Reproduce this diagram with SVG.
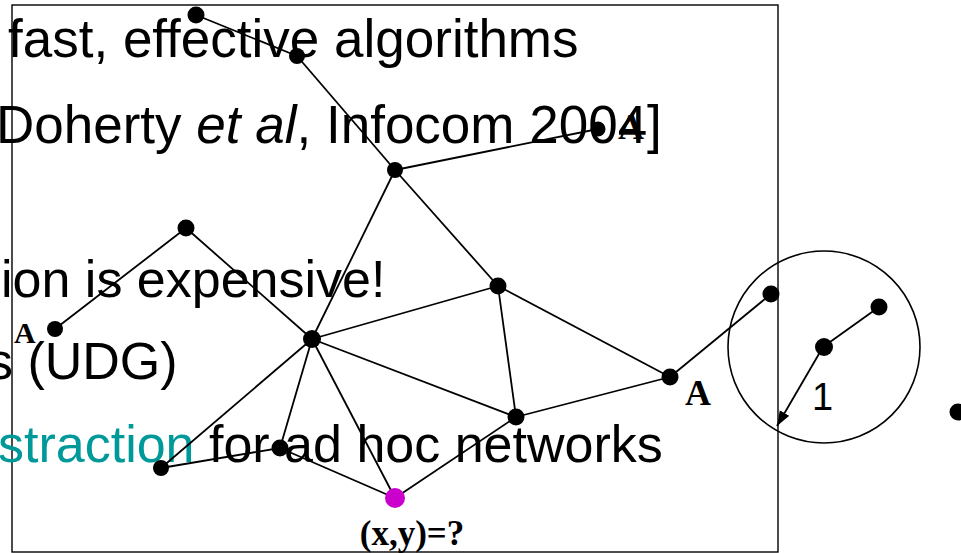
<svg xmlns="http://www.w3.org/2000/svg" width="961" height="553" viewBox="0 0 961 553">
<style>
.t{font-family:"Liberation Sans",Arial,sans-serif;font-size:52px;fill:#000}
.teal{fill:#009999}
.lbl{font-family:"Liberation Serif","Times New Roman",serif;font-weight:bold;fill:#000}
.e{stroke:#000;stroke-width:1.8;fill:none}
.n{fill:#000}
.m{fill:#cc00cc}
</style>
<defs>
<marker id="ah" markerWidth="16" markerHeight="12" refX="15" refY="5.5" orient="auto" markerUnits="userSpaceOnUse">
<path d="M0,0 L15,5.5 L0,11 z" fill="#000"/>
</marker>
</defs>
<rect width="961" height="553" fill="#fff"/>
<rect x="12" y="5" width="766" height="547" fill="none" stroke="#000" stroke-width="1.4"/>
<g id="text">
<text class="t" x="8" y="57" style="font-size:53px">fast, effective algorithms</text>
<text class="t" x="-4" y="143" style="font-size:53px">Doherty <tspan font-style="italic">et al</tspan>, Infocom 2004]</text>
<text class="t" x="1" y="297">ion is expensive!</text>
<text class="t" x="-13" y="379">s (UDG)</text>
<text class="t" x="-2" y="462"><tspan class="teal">straction</tspan> for ad hoc networks</text>
</g>
<circle cx="824" cy="347" r="96" fill="none" stroke="#000" stroke-width="1.6"/>
<g id="connectors">
<line class="e" x1="196" y1="15" x2="297" y2="56"/>
<line class="e" x1="297" y1="56" x2="395" y2="170"/>
<line class="e" x1="395" y1="170" x2="598" y2="129"/>
<line class="e" x1="395" y1="170" x2="312" y2="339"/>
<line class="e" x1="395" y1="170" x2="498" y2="286"/>
<line class="e" x1="186" y1="228" x2="55" y2="329"/>
<line class="e" x1="186" y1="228" x2="312" y2="339"/>
<line class="e" x1="312" y1="339" x2="498" y2="286"/>
<line class="e" x1="312" y1="339" x2="516" y2="417"/>
<line class="e" x1="312" y1="339" x2="161" y2="468"/>
<line class="e" x1="312" y1="339" x2="280" y2="448"/>
<line class="e" x1="312" y1="339" x2="395" y2="498"/>
<line class="e" x1="498" y1="286" x2="516" y2="417"/>
<line class="e" x1="498" y1="286" x2="670" y2="377"/>
<line class="e" x1="516" y1="417" x2="670" y2="377"/>
<line class="e" x1="670" y1="377" x2="771" y2="294"/>
<line class="e" x1="161" y1="468" x2="280" y2="448"/>
<line class="e" x1="280" y1="448" x2="395" y2="498"/>
<line class="e" x1="395" y1="498" x2="516" y2="417"/>
<line class="e" x1="823" y1="347" x2="879" y2="307"/>
<line class="e" x1="823" y1="347" x2="777" y2="426" stroke-width="1.4" marker-end="url(#ah)"/>
</g>
<g id="n1"><circle class="n" cx="196" cy="15" r="8.5"/></g>
<g id="n2"><circle class="n" cx="297" cy="56" r="8"/></g>
<g id="n3"><circle class="n" cx="395" cy="170" r="8"/></g>
<g id="n4"><circle class="n" cx="598" cy="129" r="7.5"/><text class="lbl" x="618" y="139" font-size="36" font-weight="normal">A</text></g>
<g id="n5"><circle class="n" cx="186" cy="228" r="8.5"/></g>
<g id="n6"><circle class="n" cx="55" cy="329" r="8"/><text class="lbl" x="14" y="343" font-size="30">A</text></g>
<g id="n7"><circle class="n" cx="312" cy="339" r="9"/></g>
<g id="n8"><circle class="n" cx="498" cy="286" r="8.5"/></g>
<g id="n9"><circle class="n" cx="670" cy="377" r="8.5"/><text class="lbl" x="685" y="405" font-size="36">A</text></g>
<g id="n10"><circle class="n" cx="771" cy="294" r="8.5"/></g>
<g id="n11"><circle class="n" cx="516" cy="417" r="8.5"/></g>
<g id="n12"><circle class="n" cx="161" cy="468" r="8"/></g>
<g id="n13"><circle class="n" cx="280" cy="448" r="8.5"/></g>
<g id="n14"><circle class="m" cx="395" cy="498" r="10"/><text class="lbl" x="412" y="545" font-size="35" text-anchor="middle">(x,y)=?</text></g>
<g id="n15"><circle class="n" cx="824" cy="347" r="9"/><text class="t" x="812" y="410" style="font-size:38px">1</text></g>
<g id="n16"><circle class="n" cx="879" cy="307" r="8.5"/></g>
<g id="n17"><circle class="n" cx="958" cy="412" r="8.5"/></g>
</svg>
